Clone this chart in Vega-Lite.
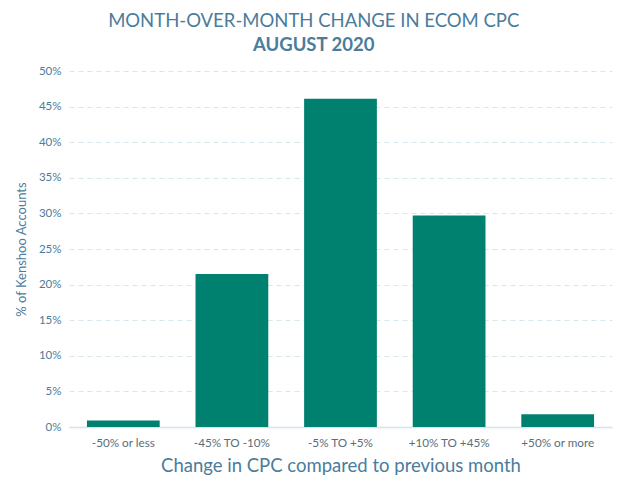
{
  "$schema": "https://vega.github.io/schema/vega-lite/v6.json",
  "width": 624,
  "height": 494,
  "autosize": {"type": "fit", "contains": "padding"},
  "padding": {"left": 15, "top": 12, "right": 12, "bottom": 18},
  "background": "white",
  "title": {
    "text": "MONTH-OVER-MONTH CHANGE IN ECOM CPC",
    "subtitle": "AUGUST 2020",
    "font": "Lato",
    "fontSize": 18.5,
    "fontWeight": "normal",
    "color": "#4A7C9C",
    "subtitleFont": "Lato",
    "subtitleFontSize": 18.5,
    "subtitleFontWeight": "bold",
    "subtitleColor": "#4A7C9C",
    "subtitlePadding": 5,
    "anchor": "middle",
    "frame": "bounds",
    "offset": 11
  },
  "data": {
    "values": [
      {"bucket": "-50% or less", "share": 0.009},
      {"bucket": "-45% TO -10%", "share": 0.215},
      {"bucket": "-5% TO +5%", "share": 0.461},
      {"bucket": "+10% TO +45%", "share": 0.297},
      {"bucket": "+50% or more", "share": 0.018}
    ]
  },
  "mark": {"type": "bar", "color": "#00806F"},
  "encoding": {
    "x": {
      "field": "bucket",
      "type": "nominal",
      "sort": null,
      "scale": {"paddingInner": 0.33, "paddingOuter": 0.165},
      "axis": {
        "title": "Change in CPC compared to previous month",
        "titleFont": "Lato",
        "titleFontSize": 18.5,
        "titleFontWeight": "normal",
        "titleColor": "#4A7C9C",
        "titlePadding": 8,
        "labelAngle": 0,
        "labelFont": "Lato",
        "labelFontSize": 11.7,
        "labelColor": "#5A6E7C",
        "labelPadding": 10,
        "ticks": false,
        "domainColor": "#D5E4EC",
        "domainWidth": 1.5,
        "grid": false
      }
    },
    "y": {
      "field": "share",
      "type": "quantitative",
      "scale": {"domain": [0, 0.5]},
      "axis": {
        "title": "% of Kenshoo Accounts",
        "format": ".0%",
        "values": [0, 0.05, 0.1, 0.15, 0.2, 0.25, 0.3, 0.35, 0.4, 0.45, 0.5],
        "titleFont": "Lato",
        "titleFontSize": 13,
        "titleFontWeight": "normal",
        "titleColor": "#4A7C9C",
        "titlePadding": 10,
        "labelFont": "Lato",
        "labelFontSize": 11.5,
        "labelColor": "#4A7C9C",
        "labelPadding": 8,
        "ticks": false,
        "domain": false,
        "grid": true,
        "gridColor": "#D9E7EE",
        "gridDash": [5, 4],
        "gridWidth": 1
      }
    }
  },
  "config": {
    "view": {"stroke": null}
  }
}
